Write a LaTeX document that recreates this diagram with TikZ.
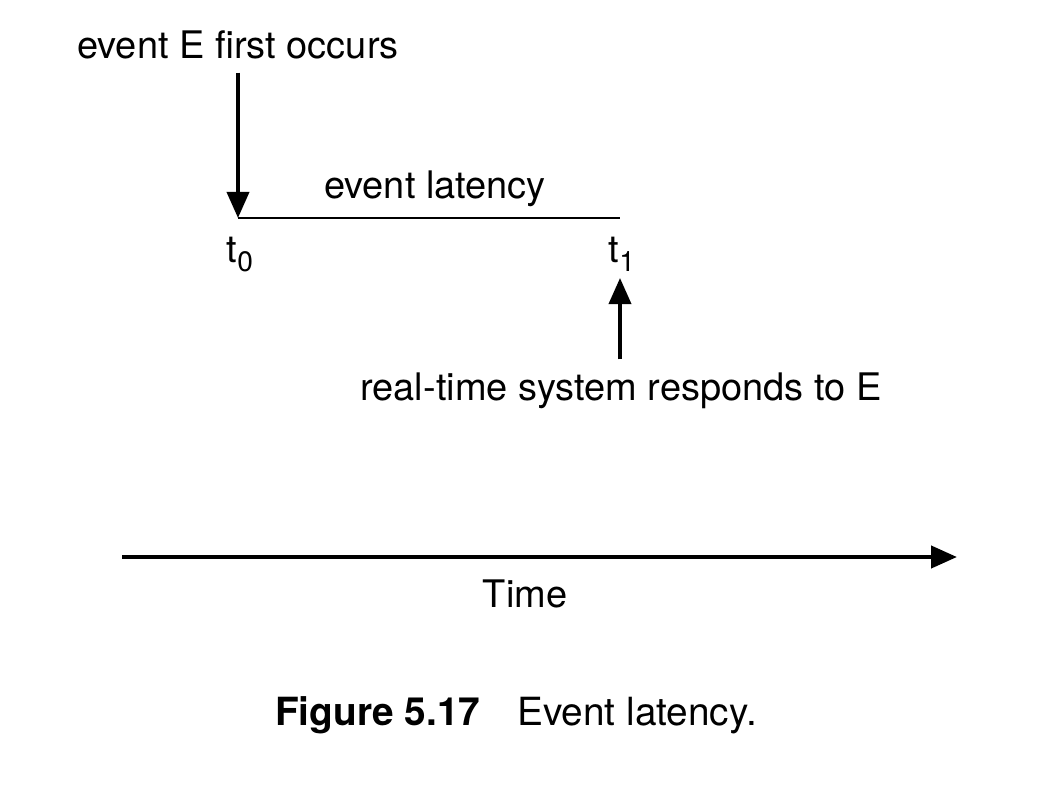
\documentclass[tikz,border=0pt]{standalone}
\usepackage{fontspec}
\setmainfont{TeX Gyre Heros}
\usetikzlibrary{arrows.meta}

\newcommand{\tsub}[1]{t{\fontsize{20}{20}\selectfont\raisebox{-7pt}{#1}}}

\begin{document}
\begin{tikzpicture}[x=0.025cm,y=-0.025cm,
    font=\fontsize{27}{32}\selectfont,
    arr/.style={line width=2.6pt,-{Triangle[length=0.65cm,width=0.55cm]}}]
    \useasboundingbox (0,0) rectangle (1060,808);
    % labels
    \node[anchor=base] (occurs) at (238,59) {event E first occurs};
    \node[anchor=base] (latency) at (435,198) {event latency};
    \node[anchor=base] (t0) at (240,262) {\tsub{0}};
    \node[anchor=base] (t1) at (622,262) {\tsub{1}};
    \node[anchor=base] (responds) at (621,400) {real-time system responds to E};
    \node[anchor=base] (time) at (525,607) {Time};
    \node[anchor=base,font=\fontsize{27.6}{32}\selectfont] (caption) at (516,725)
      {\textbf{Figure 5.17}\hspace{0.95em}Event latency.};
    \coordinate (start) at (238,218);
    \coordinate (stop) at (620,218);
    \coordinate (reply) at (620,278);
    \coordinate (origin) at (122,557);
    \coordinate (future) at (957,557);
    % arrows
    \draw[arr,shorten <=0.2cm] (occurs.south -| start) -- (start);
    \draw[line width=1.4pt] (start) -- (stop);
    \draw[arr,shorten <=0.2cm] (responds.north -| reply) -- (reply);
    \draw[arr,line width=3pt] (origin) -- (future);
\end{tikzpicture}
\end{document}
